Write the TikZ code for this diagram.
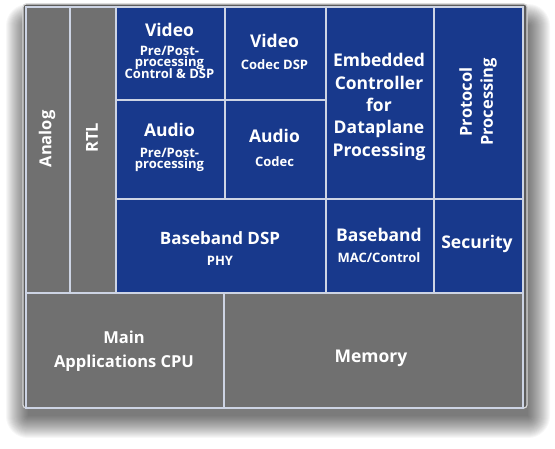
\documentclass[tikz,border=0pt]{standalone}
\usepackage{fontspec}
\setmainfont{Open Sans}
\definecolor{cellblue}{RGB}{24,57,140}
\definecolor{cellgray}{RGB}{112,112,112}
\definecolor{divline}{RGB}{205,212,228}
\definecolor{framegray}{RGB}{92,92,92}
\definecolor{frameedge}{RGB}{215,215,215}
\begin{document}
\begin{tikzpicture}[x=1pt,y=-1pt,
  cell/.style={draw=divline, line width=1.6pt, anchor=north west, inner sep=0pt},
  bluecell/.style={cell, fill=cellblue},
  graycell/.style={cell, fill=cellgray},
  ttl/.style={text=white, inner sep=0pt, anchor=base, font=\fontsize{17.5}{20}\selectfont\bfseries},
  sub/.style={text=white, inner sep=0pt, anchor=base, font=\fontsize{13}{12}\selectfont\bfseries},
  vtext/.style={rotate=90, text=white, align=center, inner sep=0pt}
]
\useasboundingbox (0,0) rectangle (555,449);
% soft shadow
\foreach \i in {0,...,22}{
  \fill[black, opacity=0.032, rounded corners=\i pt] (28-\i,26-\i) rectangle (528+\i,416+\i);
}
% outer frame
\fill[framegray, draw=frameedge, line width=1.2pt, rounded corners=3pt] (23,4) rectangle (527,408);
% cells
\node[graycell, minimum width=44pt, minimum height=286pt] (analog) at (25,6) {};
\node[graycell, minimum width=46pt, minimum height=286pt] (rtl) at (69,6) {};
\node[bluecell, minimum width=109pt, minimum height=93pt] (vpp) at (115,6) {};
\node[bluecell, minimum width=101pt, minimum height=93pt] (vcodec) at (224,6) {};
\node[bluecell, minimum width=109pt, minimum height=99pt] (app) at (115,99) {};
\node[bluecell, minimum width=101pt, minimum height=99pt] (acodec) at (224,99) {};
\node[bluecell, minimum width=108pt, minimum height=192pt] (embedded) at (325,6) {};
\node[bluecell, minimum width=89pt, minimum height=192pt] (protocol) at (433,6) {};
\node[bluecell, minimum width=210pt, minimum height=94pt] (bbdsp) at (115,198) {};
\node[bluecell, minimum width=108pt, minimum height=94pt] (bbmac) at (325,198) {};
\node[bluecell, minimum width=89pt, minimum height=94pt] (security) at (433,198) {};
\node[graycell, minimum width=198pt, minimum height=115pt] (cpu) at (25,292) {};
\node[graycell, minimum width=299pt, minimum height=115pt] (memory) at (223,292) {};
% texts
\node[vtext, font=\fontsize{16.5}{18}\selectfont\bfseries] (analogtxt) at (47,139) {Analog};
\node[vtext, font=\fontsize{16.5}{18}\selectfont\bfseries] (rtltxt) at (92,138) {RTL};
\node[ttl] (vppt) at (169.5,37) {Video};
\node[sub] (vpps1) at (169.5,55.5) {Pre/Post-};
\node[sub] (vpps2) at (169.5,67) {processing};
\node[sub] (vpps3) at (169.5,78.5) {Control \& DSP};
\node[ttl] (vcodect) at (274.5,48) {Video};
\node[sub] (vcodecs) at (274.5,70) {Codec DSP};
\node[ttl] (appt) at (169.5,137) {Audio};
\node[sub] (apps1) at (169.5,157.5) {Pre/Post-};
\node[sub] (apps2) at (169.5,169) {processing};
\node[ttl] (acodect) at (274.5,143) {Audio};
\node[sub] (acodecs) at (274.5,167) {Codec};
\node[text=white, inner sep=0pt, align=center, font=\fontsize{17.5}{22.3}\selectfont\bfseries] (embtxt) at (379,107)
  {Embedded\\Controller\\for\\Dataplane\\Processing};
\node[vtext, font=\fontsize{16.5}{21}\selectfont\bfseries] (prottxt) at (478,102) {Protocol\\Processing};
\node[ttl, font=\fontsize{17}{20}\selectfont\bfseries] (bbdspt) at (220,245) {Baseband DSP};
\node[sub] (bbdsps) at (220,265.5) {PHY};
\node[ttl] (bbmact) at (379,242) {Baseband};
\node[sub] (bbmacs) at (379,263) {MAC/Control};
\node[ttl] (sectxt) at (477,249) {Security};
\node[ttl, font=\fontsize{16.5}{20}\selectfont\bfseries] (cpu1) at (124,344) {Main};
\node[ttl, font=\fontsize{16.5}{20}\selectfont\bfseries] (cpu2) at (124,367.5) {Applications CPU};
\node[ttl] (memtxt) at (371,363) {Memory};
\end{tikzpicture}
\end{document}
